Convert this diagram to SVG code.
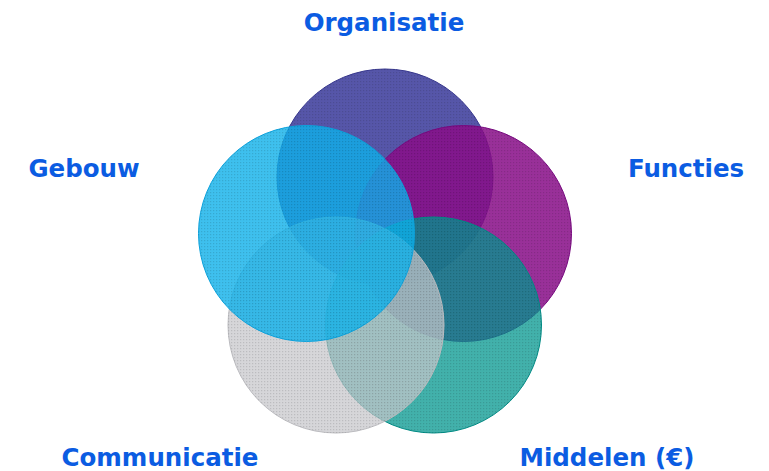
<svg xmlns="http://www.w3.org/2000/svg" width="769" height="471" viewBox="0 0 769 471">
<style>
.lbl{font-family:"DejaVu Sans","Verdana",sans-serif;font-weight:bold;font-size:24.5px;fill:#0b5ce2;text-anchor:middle}
.c{stroke-width:1}
</style>
<defs>
<pattern id="dots" width="3" height="3" patternUnits="userSpaceOnUse">
<rect x="0" y="0" width="1.2" height="1.2" fill="#000" fill-opacity="0.12"/>
</pattern>
</defs>
<rect width="769" height="471" fill="#fff"/>
<g id="organisatie">
<circle class="c" cx="385" cy="177" r="108" fill="#4444a0" fill-opacity="0.9" stroke="#38388e"/>
<circle cx="385" cy="177" r="108" fill="url(#dots)"/>
</g>
<g id="functies">
<circle class="c" cx="463.5" cy="233.5" r="108" fill="#880e88" fill-opacity="0.86" stroke="#780a80"/>
<circle cx="463.5" cy="233.5" r="108" fill="url(#dots)"/>
</g>
<g id="middelen">
<circle class="c" cx="433.5" cy="325" r="108" fill="#00968e" fill-opacity="0.74" stroke="#008a84"/>
<circle cx="433.5" cy="325" r="108" fill="url(#dots)"/>
</g>
<g id="communicatie">
<circle class="c" cx="336" cy="325" r="108" fill="#c6c6ca" fill-opacity="0.72" stroke="#bcbcc0"/>
<circle cx="336" cy="325" r="108" fill="url(#dots)"/>
</g>
<g id="gebouw">
<circle class="c" cx="306.5" cy="233.5" r="108" fill="#0eb0ea" fill-opacity="0.8" stroke="#0ca2dc"/>
<circle cx="306.5" cy="233.5" r="108" fill="url(#dots)"/>
</g>
<g id="labels">
<text class="lbl" x="384" y="31">Organisatie</text>
<text class="lbl" x="84" y="177">Gebouw</text>
<text class="lbl" x="686" y="177">Functies</text>
<text class="lbl" x="160" y="466">Communicatie</text>
<text class="lbl" x="607" y="466">Middelen (€)</text>
</g>
<g id="connectors"/>
</svg>
